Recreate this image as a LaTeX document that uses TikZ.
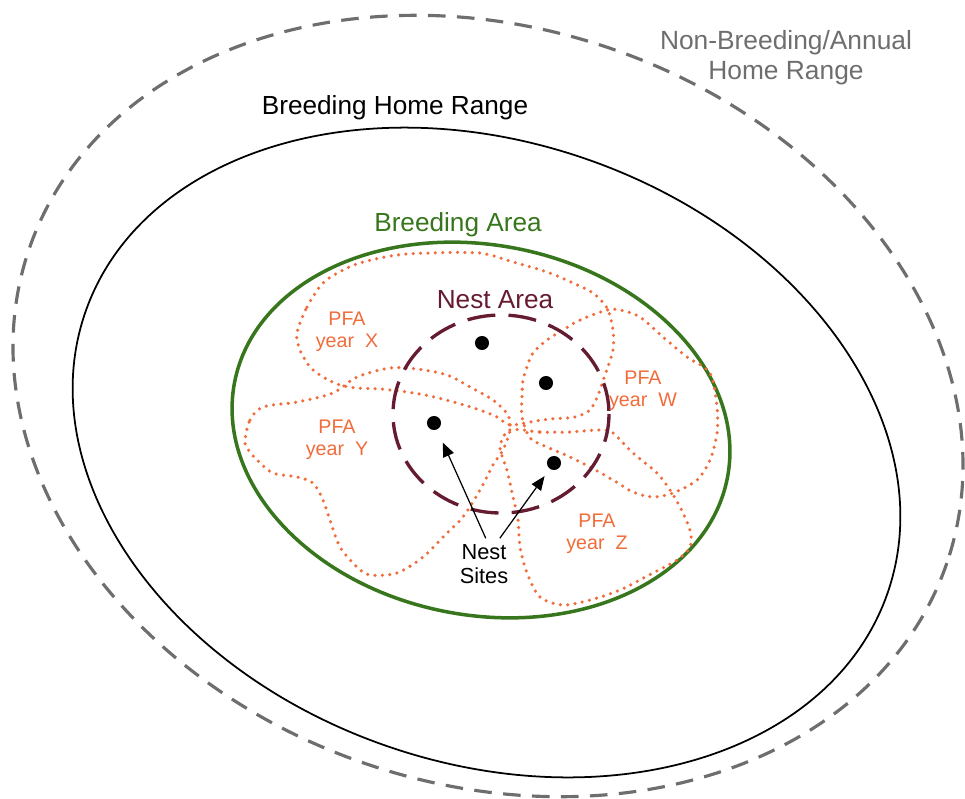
\documentclass[tikz,border=0pt]{standalone}
\usepackage{fontspec}
\setmainfont{Liberation Sans}
\usetikzlibrary{arrows.meta}
\definecolor{rangegray}{RGB}{110,110,110}
\definecolor{areagreen}{RGB}{56,118,29}
\definecolor{nestred}{RGB}{102,28,48}
\definecolor{pfaorange}{RGB}{240,108,58}
\tikzset{
  pfa/.style={pfaorange,line width=2pt,line cap=round,dash pattern=on 0pt off 4.2pt},
  pfatext/.style={text=pfaorange,align=center,font=\fontsize{11.2}{12.5}\selectfont},
  bigtext/.style={font=\fontsize{14.9}{17}\selectfont},
  site/.style={circle,fill=black,inner sep=0pt,minimum size=8pt},
  sitearrow/.style={-{Triangle[length=8pt,width=6.5pt]},line width=0.7pt}
}
\begin{document}
\begin{tikzpicture}[x=0.02cm,y=-0.02cm]
\pgfmathsetmacro{\nrx}{108}
\pgfmathsetmacro{\nry}{99}
\useasboundingbox (0,0) rectangle (965,799);
\draw[rangegray,line width=1.8pt,dash pattern=on 10pt off 6.5pt,shift={(488,406)},rotate=-18.9] (0,0) ellipse (485 and 378);
\draw[line width=1pt,shift={(486.5,452.5)},rotate=-19.5] (0,0) ellipse (425 and 310);
\draw[areagreen,line width=2pt,shift={(481,430)},rotate=-11] (0,0) ellipse (251 and 185);
\draw[pfa] plot[smooth cycle] coordinates {(297,333) (307,307) (323,283) (343,270) (363,262) (397,255) (430,253) (480,253) (513,262) (547,272) (573,283) (593,293) (607,308) (613,330) (613,350) (605,375) (598,395) (590,410) (575,417) (550,419) (530,422) (510,425) (497,417) (480,410) (457,403) (430,396) (407,392) (380,389) (357,388) (340,385) (323,377) (310,367) (300,350)};
\draw[pfa] plot[smooth cycle] coordinates {(245,440) (250,420) (263,407) (297,402) (333,393) (357,377) (390,368) (417,369) (447,375) (470,387) (493,400) (508,415) (510,430) (503,450) (493,465) (480,490) (463,517) (447,533) (423,557) (397,573) (370,575) (357,567) (340,547) (330,520) (323,500) (313,483) (297,477) (273,473) (257,460) (247,448)};
\draw[pfa] plot[smooth cycle] coordinates {(607,310) (580,320) (563,330) (547,340) (533,353) (527,367) (523,380) (522,397) (522,417) (530,438) (547,447) (570,457) (590,467) (613,480) (633,492) (653,497) (673,493) (697,480) (710,460) (717,433) (717,407) (710,373) (687,357) (663,337) (640,317) (620,310)};
\draw[pfa] plot[smooth cycle] coordinates {(510,430) (540,432) (570,432) (600,430) (613,433) (633,453) (657,473) (670,490) (680,507) (690,530) (690,547) (677,560) (653,573) (620,590) (590,600) (563,605) (540,597) (527,573) (520,547) (518,520) (513,497) (507,470) (500,447)};
\draw[nestred,line width=1.9pt,dash pattern=on 16pt off 7.5pt] (501,414) ellipse [x radius=\nrx, y radius=\nry];
\node[site] (n1) at (482,343) {};
\node[site] (n2) at (546,383) {};
\node[site] (n3) at (434,423) {};
\node[site] (n4) at (554,463) {};
\node[align=center,font=\fontsize{12.4}{13.6}\selectfont] (sites) at (484,564) {Nest\\Sites};
\draw[sitearrow,shorten >=8pt] ([xshift=1pt]sites.north) -- (n3);
\draw[sitearrow,shorten >=5pt] ([xshift=9pt]sites.north) -- (n4);
\node[text=rangegray,align=center,font=\fontsize{15}{17}\selectfont] (annual) at (786,58) {Non-Breeding/Annual\\Home Range};
\node[bigtext] (breedhr) at (395,108) {Breeding Home Range};
\node[bigtext,text=areagreen] (breedarea) at (458,225) {Breeding Area};
\node[bigtext,text=nestred] (nestarea) at (495,300) {Nest Area};
\node[pfatext] (pfax) at (347,332) {PFA\\year\ \ X};
\node[pfatext] (pfaw) at (643,391) {PFA\\year\ \ W};
\node[pfatext] (pfay) at (337,440) {PFA\\year\ \ Y};
\node[pfatext] (pfaz) at (597,534) {PFA\\year\ \ Z};
\end{tikzpicture}
\end{document}
